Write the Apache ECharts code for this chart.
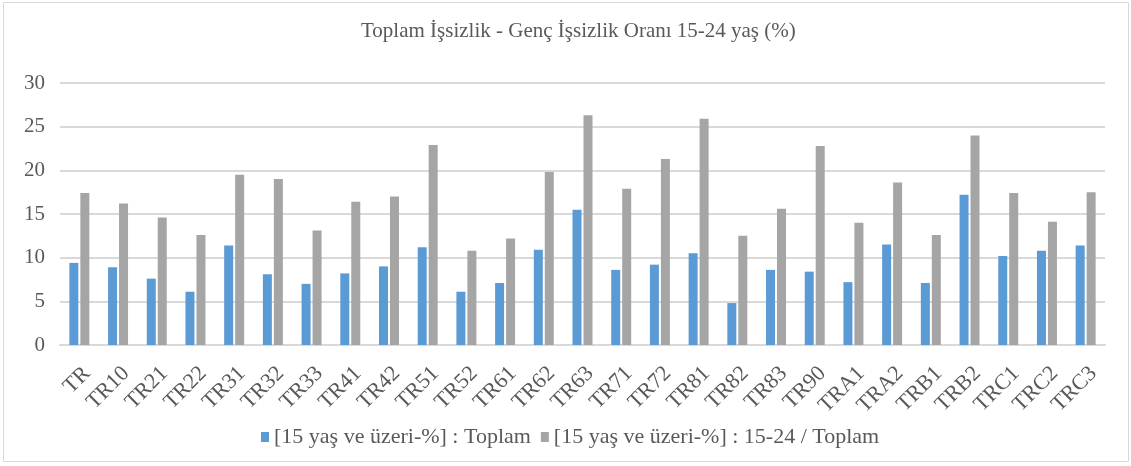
<!DOCTYPE html>
<html><head><meta charset="utf-8">
<script src="https://cdn.jsdelivr.net/npm/echarts@6/dist/echarts.min.js"></script>
<style>html,body{margin:0;padding:0;background:#fff}#c{width:1131px;height:466px}</style>
</head><body><div id="c"></div>
<script>
const categories = ["TR","TR10","TR21","TR22","TR31","TR32","TR33","TR41","TR42","TR51","TR52","TR61","TR62","TR63","TR71","TR72","TR81","TR82","TR83","TR90","TRA1","TRA2","TRB1","TRB2","TRC1","TRC2","TRC3"];
const toplam = [9.4,8.9,7.6,6.1,11.4,8.1,7.0,8.2,9.0,11.2,6.1,7.1,10.9,15.5,8.6,9.2,10.5,4.8,8.6,8.4,7.2,11.5,7.1,17.2,10.2,10.8,11.4];
const genc = [17.4,16.2,14.6,12.6,19.5,19.0,13.1,16.4,17.0,22.9,10.8,12.2,19.8,26.3,17.9,21.3,25.9,12.5,15.6,22.8,14.0,18.6,12.6,24.0,17.4,14.1,17.5];
const seriesNames = ["[15 yaş ve üzeri-%] : Toplam","[15 yaş ve üzeri-%] : 15-24 / Toplam"];
const titleText = "Toplam İşsizlik - Genç İşsizlik Oranı 15-24 yaş (%)";
const font = "'Liberation Serif','Times New Roman',serif";
const chart = echarts.init(document.getElementById('c'), null, {renderer:'canvas'});
chart.setOption({
  animation:false,
  backgroundColor:'#fff',
  graphic:[{type:'rect',shape:{x:3.5,y:2.5,width:1125,height:459},style:{fill:'none',stroke:'#D9D9D9',lineWidth:1}}],
  title:{text:titleText,left:356,top:16,textStyle:{fontFamily:font,fontSize:21,fontWeight:'normal',color:'#595959'}},
  legend:{bottom:13,left:256,itemWidth:8,itemHeight:10,itemGap:10,icon:'rect',
    textStyle:{fontFamily:font,fontSize:22,color:'#595959'}},
  grid:{left:60,right:26,top:83,bottom:121,containLabel:false},
  xAxis:{type:'category',data:categories,
    axisLine:{lineStyle:{color:'#D9D9D9',width:2}},axisTick:{show:false},
    axisLabel:{rotate:45,interval:0,fontFamily:font,fontSize:22,color:'#595959',margin:33,padding:[0,-11,0,0]}},
  yAxis:{type:'value',min:0,max:30,interval:5,
    axisLine:{show:false},axisTick:{show:false},
    splitLine:{lineStyle:{color:'#D9D9D9',width:2}},
    axisLabel:{fontFamily:font,fontSize:21,color:'#595959',margin:15}},
  series:[
    {name:seriesNames[0],type:'bar',data:toplam,barWidth:9,barGap:'22%',itemStyle:{color:'#5B9BD5'}},
    {name:seriesNames[1],type:'bar',data:genc,barWidth:9,barGap:'22%',itemStyle:{color:'#A5A5A5'}}
  ]
});
</script></body></html>
